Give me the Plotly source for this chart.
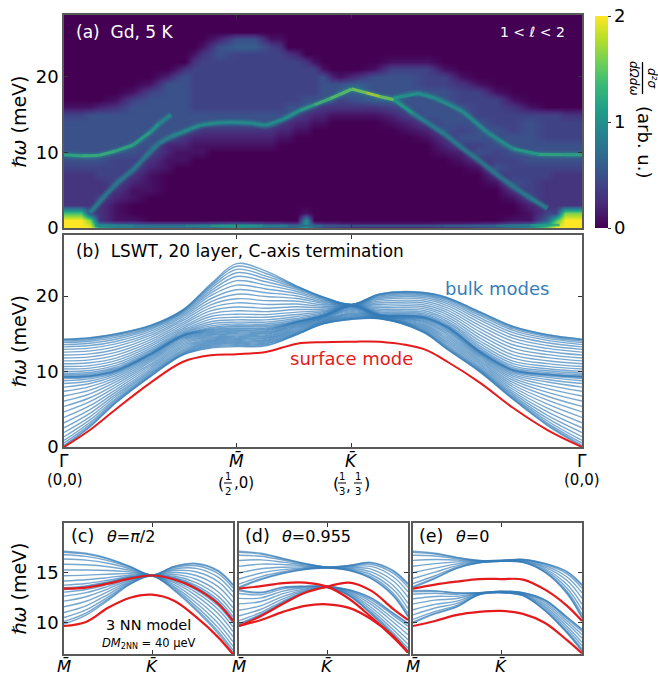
import plotly.graph_objects as go
from plotly.colors import sample_colorscale

FONT = "DejaVu Sans"
FRAME = "#5a5a5a"
BLUE = "rgba(55,126,184,0.68)"
RED = "#e41a1c"

# ---------- panel (a): diffuse intensity in tenths of arb. u.; one list per momentum, index = energy in meV
heat_q_values = [0.0, 0.1, 0.15, 0.2, 0.3, 0.4, 0.5, 0.6, 0.65, 0.7, 0.75, 0.8, 0.85, 0.9, 1.0, 1.1, 1.2, 1.25, 1.3, 1.35,
                 1.4, 1.45, 1.5, 1.55, 1.6, 1.7, 1.8, 1.9, 2.0, 2.1, 2.2, 2.3, 2.4, 2.5, 2.6, 2.7, 2.8, 2.85, 2.9, 3.0]
heat_columns = [
    [20,20,14,3,3,3,3,3,4,5,5,5,5,5,5,4,1],
    [20,20,14,3,3,3,3,3,4,5,5,5,5,5,5,4,1],
    [20,16,4,3,3,3,3,3,4,5,5,5,5,5,5,5,1],
    [12,3,3,3,4,3,3,4,4,5,5,5,5,5,5,5,2],
    [10,1,1,1,2,3,4,4,4,4,5,5,5,5,5,5,3,1],
    [9,1,0,0,1,1,2,3,4,4,5,5,5,5,5,5,5,4,1],
    [8,0,0,0,0,1,1,1,2,3,4,5,5,5,5,5,5,5,4,1],
    [8,0,0,0,0,0,0,0,1,1,2,2,5,5,5,5,5,5,5,5,2],
    [8,0,0,0,0,0,0,0,0,1,1,2,4,5,5,5,5,5,5,5,4,1],
    [8,0,0,0,0,0,0,0,0,1,1,2,3,5,5,5,5,5,5,5,5,3],
    [8,0,0,0,0,0,0,0,0,0,1,1,2,4,5,5,4,4,4,4,4,4,3,1],
    [9,0,0,0,0,0,0,0,0,0,1,1,2,3,5,5,4,4,4,4,4,4,4,3,1],
    [9,0,0,0,0,0,0,0,0,0,0,1,2,3,5,5,4,4,4,4,4,4,4,4,3,1],
    [10,0,0,0,0,0,0,0,0,0,0,1,2,3,5,5,4,4,4,4,4,4,4,5,5,2],
    [12,0,0,0,0,0,0,0,0,0,0,1,2,3,5,5,4,4,4,4,4,4,4,4,6,5],
    [10,0,0,0,0,0,0,0,0,0,0,1,2,3,5,5,4,4,4,4,4,4,4,4,6,5],
    [8,0,0,0,0,0,0,0,0,0,0,1,2,3,5,5,4,4,4,4,4,4,4,4,4,1],
    [8,0,0,0,0,0,0,0,0,0,0,0,1,2,4,5,4,4,4,4,4,4,4,4,3,1],
    [7,0,0,0,0,0,0,0,0,0,0,0,1,2,3,5,5,4,4,4,4,4,4,3],
    [7,0,0,0,0,0,0,0,0,0,0,0,0,1,2,4,5,4,4,4,4,4,4,2],
    [11,10,1,0,0,0,0,0,0,0,0,0,0,1,2,3,5,5,4,4,4,4,3],
    [7,0,0,0,0,0,0,0,0,0,0,0,0,0,1,2,4,5,4,4,4,4,1],
    [5,0,0,0,0,0,0,0,0,0,0,0,0,0,1,2,3,5,5,5,5,1],
    [5,0,0,0,0,0,0,0,0,0,0,0,0,0,0,1,3,5,5,5,2],
    [4,0,0,0,0,0,0,0,0,0,0,0,0,0,0,1,3,4,6,5,1],
    [3,0,0,0,0,0,0,0,0,0,0,0,0,0,0,1,3,5,6,6,3],
    [3,0,0,0,0,0,0,0,0,0,0,0,0,0,0,1,3,6,5,5,5,1],
    [3,0,0,0,0,0,0,0,0,0,0,0,0,0,1,2,4,6,5,5,5,4,1],
    [3,0,0,0,0,0,0,0,0,0,0,0,0,1,2,4,5,5,5,5,5,4,1],
    [3,0,0,0,0,0,0,0,0,0,0,0,1,2,4,5,5,5,5,4,4,4,1],
    [4,0,0,0,0,0,0,0,0,0,1,2,3,5,5,5,5,5,5,4,4,1],
    [4,0,0,0,0,0,0,0,0,1,2,4,5,4,5,5,5,4,4,3,1],
    [5,0,0,0,0,0,0,0,1,3,5,4,5,5,5,4,4,4,4,1],
    [6,0,0,0,0,0,1,3,5,4,4,5,5,5,4,4,4,4,1],
    [8,1,0,0,1,3,5,4,4,4,5,5,5,4,4,4,3,1],
    [10,1,1,2,4,4,4,4,4,5,5,5,5,5,5,4,1],
    [16,6,4,3,3,3,3,4,4,5,5,5,4,4,4,4],
    [20,14,4,3,3,3,3,3,4,5,5,5,4,4,4,4],
    [20,20,16,3,3,3,3,3,4,5,5,5,4,4,4,3],
    [20,20,16,3,3,3,3,3,4,5,5,5,4,4,4,3],
]
heat_energy = list(range(29))

# bright dispersion ridges of panel (a): momentum, energy, intensity
ridge_a_q = [0, 0.1, 0.2, 0.3, 0.4, 0.5, 0.55, 0.62]
ridge_a_e = [9.7, 9.55, 9.6, 10.2, 11.0, 12.7, 13.8, 15.0]
ridge_a_i = [1.25, 1.3, 1.4, 1.3, 1.25, 1.15, 1.05, 0.85]
ridge_b_q = [0.15, 0.2, 0.25, 0.32, 0.4, 0.47, 0.55, 0.62, 0.69, 0.74, 0.79, 0.88, 0.98, 1.08, 1.17, 1.27, 1.37, 1.45,
             1.54, 1.6, 1.667, 1.75, 1.83, 1.91, 2.02, 2.1, 2.2, 2.3, 2.4, 2.5, 2.6, 2.7, 2.8]
ridge_b_e = [2.0, 3.3, 4.6, 6.2, 7.7, 9.4, 11.2, 12.1, 12.7, 13.2, 13.6, 13.9, 14.0, 13.9, 13.6, 14.4, 15.6, 16.3,
             17.1, 17.7, 18.4, 17.9, 17.4, 17.0, 15.2, 14.0, 12.5, 10.7, 9.0, 7.2, 5.5, 4.0, 2.6]
ridge_b_i = [0.9, 0.85, 0.8, 0.8, 0.85, 0.85, 0.85, 0.95, 1.0, 1.05, 1.05, 1.0, 1.0, 1.0, 1.0, 1.05, 1.1, 1.3,
             1.5, 1.5, 1.55, 1.7, 1.9, 1.3, 0.95, 0.9, 0.85, 0.85, 0.8, 0.8, 0.8, 0.85, 0.95]
ridge_c_q = [1.91, 2.05, 2.15, 2.31, 2.45, 2.6, 2.75, 2.9, 3.0]
ridge_c_e = [17.2, 17.8, 17.2, 15.4, 12.7, 10.5, 9.75, 9.7, 9.7]
ridge_c_i = [1.1, 1.05, 1.05, 1.0, 1.0, 1.05, 1.25, 1.3, 1.2]
elastic_q = [0.18, 0.4, 0.7, 0.85, 1.0, 1.15, 1.3, 1.5, 1.8, 2.2, 2.5, 2.7, 2.87]
elastic_e = [0.35, 0.3, 0.3, 0.3, 0.3, 0.3, 0.3, 0.3, 0.3, 0.3, 0.3, 0.35, 0.4]
elastic_i = [1.1, 0.8, 0.8, 1.1, 1.2, 1.0, 0.8, 0.6, 0.55, 0.6, 0.75, 0.95, 1.3]

# ---------- panel (b): energies of the blue modes at each momentum
b_q = [0, 0.15, 0.3, 0.5, 0.69, 0.85, 1, 1.17, 1.35, 1.5, 1.667, 1.83, 2.08, 2.22, 2.41, 2.6, 2.8, 3]
b_modes = [
 [.06,.22,.51,.88,1.36,1.92,2.54,3.21,3.92,4.65,5.38,6.09,6.76,7.38,7.94,8.42,8.79,9.08,9.24,9.3,
  9.33,9.42,9.58,9.78,10.03,10.33,10.67,11.03,11.41,11.8,12.19,12.58,12.94,13.27,13.57,13.83,14.03,14.18,14.27,14.3],
 [2.64,2.76,2.97,3.25,3.59,4.0,4.46,4.95,5.47,6.0,6.53,7.05,7.54,8.0,8.41,8.75,9.03,9.24,9.36,9.4,
  9.43,9.52,9.68,9.88,10.14,10.45,10.79,11.16,11.55,11.95,12.35,12.74,13.11,13.45,13.76,14.02,14.22,14.38,14.47,14.5],
 [5.83,5.9,6.04,6.21,6.43,6.69,6.97,7.28,7.61,7.95,8.29,8.62,8.93,9.21,9.47,9.69,9.86,10.0,10.08,10.1,
  10.13,10.22,10.37,10.57,10.82,11.11,11.44,11.79,12.17,12.55,12.93,13.31,13.66,13.99,14.28,14.53,14.73,14.88,14.97,15.0],
 [9.32,9.37,9.47,9.59,9.74,9.92,10.12,10.34,10.57,10.8,11.03,11.27,11.48,11.68,11.86,12.02,12.14,12.23,12.28,12.3,
  12.32,12.39,12.51,12.66,12.85,13.08,13.34,13.61,13.9,14.2,14.5,14.79,15.06,15.32,15.55,15.74,15.89,16.01,16.08,16.1],
 [12.22,12.26,12.34,12.45,12.58,12.74,12.91,13.1,13.3,13.5,13.7,13.9,14.09,14.26,14.42,14.55,14.66,14.74,14.78,14.8,
  14.82,14.88,14.99,15.12,15.3,15.5,15.73,15.97,16.23,16.5,16.77,17.03,17.27,17.5,17.7,17.88,18.01,18.12,18.18,18.2],
 [13.1,13.23,13.36,13.49,13.62,13.75,13.88,14.01,14.14,14.27,14.4,14.53,14.66,14.79,14.92,15.05,15.18,15.31,15.44,15.57,
  15.7,15.85,16.05,16.3,16.6,16.95,17.3,17.65,18.05,18.45,18.85,19.25,19.65,20.05,20.4,20.7,21.0,21.25,21.45,21.6],
 [13.3,13.43,13.56,13.69,13.82,13.95,14.08,14.21,14.34,14.47,14.6,14.73,14.86,14.99,15.12,15.25,15.38,15.51,15.64,15.77,
  15.95,16.1,16.3,16.55,16.85,17.2,17.6,18.05,18.55,19.1,19.65,20.25,20.85,21.45,22.05,22.6,23.1,23.55,23.95,24.3],
 [13.4,13.52,13.65,13.77,13.9,14.02,14.15,14.27,14.4,14.52,14.65,14.77,14.9,15.02,15.15,15.27,15.4,15.52,15.65,15.77,
  15.95,16.1,16.3,16.55,16.85,17.2,17.55,17.95,18.4,18.9,19.4,19.95,20.45,20.95,21.45,21.9,22.3,22.65,23.0,23.3],
 [14.91,14.94,14.99,15.06,15.15,15.25,15.36,15.49,15.62,15.75,15.88,16.01,16.14,16.25,16.35,16.44,16.51,16.56,16.59,16.6,
  16.63,16.71,16.86,17.05,17.29,17.57,17.88,18.22,18.58,18.95,19.32,19.68,20.02,20.33,20.61,20.85,21.04,21.19,21.27,21.3],
 [16.31,16.33,16.36,16.4,16.46,16.53,16.6,16.68,16.76,16.85,16.94,17.02,17.1,17.17,17.24,17.3,17.34,17.37,17.39,17.4,
  17.42,17.46,17.54,17.64,17.77,17.92,18.08,18.26,18.46,18.65,18.85,19.04,19.22,19.39,19.54,19.66,19.76,19.84,19.89,19.9],
 [16.91,16.94,17.0,17.07,17.16,17.27,17.39,17.52,17.66,17.8,17.94,18.08,18.21,18.33,18.44,18.53,18.6,18.66,18.69,18.7,
  18.7,18.7,18.71,18.72,18.73,18.74,18.75,18.77,18.78,18.8,18.82,18.83,18.85,18.86,18.87,18.88,18.89,18.9,18.9,18.9],
 [17.0,17.01,17.03,17.05,17.07,17.1,17.14,17.17,17.21,17.25,17.29,17.33,17.36,17.4,17.43,17.45,17.47,17.49,17.5,17.5,
  17.52,17.57,17.65,17.77,17.91,18.08,18.26,18.47,18.68,18.9,19.12,19.33,19.54,19.72,19.89,20.03,20.15,20.23,20.28,20.3],
 [15.21,15.25,15.31,15.39,15.49,15.61,15.75,15.89,16.04,16.2,16.36,16.51,16.65,16.79,16.91,17.01,17.09,17.15,17.19,17.2,
  17.22,17.28,17.38,17.51,17.68,17.88,18.1,18.34,18.59,18.85,19.11,19.36,19.6,19.82,20.02,20.19,20.32,20.42,20.48,20.5],
 [12.92,12.97,13.07,13.19,13.34,13.52,13.72,13.94,14.17,14.4,14.63,14.87,15.08,15.28,15.46,15.62,15.74,15.83,15.88,15.9,
  15.92,15.99,16.11,16.27,16.47,16.7,16.96,17.25,17.55,17.85,18.15,18.45,18.74,19.0,19.23,19.43,19.59,19.71,19.78,19.8],
 [9.92,9.96,10.05,10.16,10.29,10.46,10.64,10.83,11.04,11.25,11.46,11.67,11.86,12.04,12.21,12.34,12.45,12.54,12.58,12.6,
  12.63,12.73,12.89,13.1,13.37,13.69,14.05,14.43,14.84,15.25,15.66,16.07,16.45,16.81,17.13,17.4,17.61,17.77,17.87,17.9],
 [6.32,6.39,6.51,6.67,6.87,7.1,7.36,7.65,7.95,8.25,8.55,8.85,9.14,9.4,9.63,9.83,9.99,10.11,10.18,10.2,
  10.23,10.34,10.52,10.75,11.05,11.39,11.78,12.2,12.65,13.1,13.55,14.0,14.42,14.81,15.15,15.45,15.68,15.86,15.97,16.0],
 [2.84,2.96,3.17,3.45,3.79,4.2,4.66,5.15,5.67,6.2,6.73,7.25,7.74,8.2,8.61,8.95,9.23,9.44,9.56,9.6,
  9.63,9.73,9.89,10.1,10.37,10.69,11.05,11.43,11.84,12.25,12.66,13.07,13.45,13.81,14.13,14.4,14.61,14.77,14.87,14.9],
 [.06,.22,.51,.88,1.36,1.92,2.54,3.21,3.92,4.65,5.38,6.09,6.76,7.38,7.94,8.42,8.79,9.08,9.24,9.3,
  9.33,9.42,9.58,9.78,10.03,10.33,10.67,11.03,11.41,11.8,12.19,12.58,12.94,13.27,13.57,13.83,14.03,14.18,14.27,14.3],
]
b_surface = [0, 2.25, 5.0, 8.5, 11.3, 12.15, 12.3, 12.6, 13.7, 13.9, 13.95, 13.95, 13.0, 11.3, 8.5, 5.2, 2.25, 0]

# ---------- panels (c), (d), (e)
low_q = [0, 0.25, 0.5, 0.75, 1, 1.25, 1.5, 1.75, 1.92]
c_modes = [
 [9.89,10.14,10.54,11.04,11.6,12.16,12.66,13.06,13.31,13.4,13.49,13.75,14.16,14.68,15.25,15.82,16.34,16.75,17.01,17.1],
 [10.77,10.98,11.3,11.7,12.15,12.6,13.0,13.32,13.53,13.6,13.68,13.91,14.28,14.74,15.25,15.76,16.22,16.59,16.82,16.9],
 [12.24,12.37,12.57,12.82,13.1,13.38,13.63,13.83,13.96,14.0,14.06,14.23,14.49,14.83,15.2,15.57,15.91,16.17,16.34,16.4],
 [13.82,13.87,13.94,14.04,14.15,14.26,14.36,14.43,14.48,14.5,14.53,14.6,14.73,14.88,15.05,15.22,15.37,15.5,15.57,15.6],
 [14.65,14.66,14.66,14.67,14.68,14.68,14.69,14.69,14.7,14.7,14.7,14.71,14.71,14.72,14.73,14.73,14.74,14.74,14.75,14.75],
 [13.23,13.31,13.45,13.61,13.8,13.99,14.15,14.29,14.37,14.4,14.43,14.51,14.65,14.81,15.0,15.19,15.35,15.49,15.57,15.6],
 [11.26,11.42,11.67,12.0,12.35,12.71,13.03,13.28,13.44,13.5,13.56,13.73,13.99,14.33,14.7,15.07,15.41,15.67,15.84,15.9],
 [8.97,9.19,9.54,9.97,10.45,10.93,11.36,11.71,11.93,12.0,12.08,12.3,12.66,13.1,13.6,14.1,14.54,14.9,15.12,15.2],
 [7.08,7.31,7.68,8.14,8.65,9.16,9.62,9.99,10.22,10.3,10.38,10.63,11.02,11.51,12.05,12.59,13.08,13.47,13.72,13.8],
]
c_red = [
 [13.4, 13.5, 13.9, 14.4, 14.7, 14.3, 13.4, 11.9, 10.2],
 [9.7, 10.1, 11.5, 12.5, 12.8, 12.2, 10.6, 8.6, 6.9],
]
d_modes = [
 [9.85,9.95,10.23,10.71,11.26,11.89,12.44,12.92,13.2,13.3,13.45,13.56,13.85,14.36,14.95,15.6,16.19,16.7,16.99,17.1],
 [10.8,10.87,11.05,11.36,11.72,12.13,12.49,12.8,12.98,13.05,14.3,14.38,14.59,14.95,15.37,15.83,16.25,16.61,16.82,16.9],
 [12,12.05,12.17,12.39,12.64,12.91,13.16,13.38,13.5,13.55,14.9,14.95,15.07,15.28,15.52,15.79,16.03,16.24,16.36,16.4],
 [13,13.02,13.07,13.16,13.27,13.38,13.49,13.58,13.63,13.65,15.3,15.32,15.37,15.45,15.55,15.65,15.75,15.83,15.88,15.9],
 [13.5,13.5,13.52,13.54,13.56,13.59,13.61,13.63,13.65,13.65,15.45,15.45,15.46,15.48,15.49,15.51,15.53,15.54,15.55,15.55],
 [12.7,12.72,12.77,12.85,12.95,13.05,13.15,13.23,13.28,13.3,15.2,15.22,15.26,15.33,15.41,15.5,15.58,15.65,15.69,15.7],
 [10.9,10.95,11.08,11.3,11.56,11.84,12.1,12.32,12.45,12.5,14.4,14.45,14.58,14.8,15.06,15.34,15.6,15.82,15.95,16],
 [8.8,8.87,9.04,9.35,9.7,10.1,10.45,10.76,10.93,11,12.7,12.78,12.98,13.33,13.73,14.18,14.58,14.93,15.13,15.2],
 [7.2,7.28,7.51,7.9,8.35,8.85,9.3,9.69,9.92,10,10.6,10.7,10.96,11.43,11.95,12.55,13.08,13.54,13.8,13.9],
]
d_red = [
 [13.4, 13.65, 13.95, 14.0, 13.6, 12.4, 10.6, 8.6, 7.1],
 [9.7, 10.7, 11.9, 13.0, 13.6, 14.0, 13.2, 11.4, 10.3],
 [9.7, 10.3, 11.1, 11.7, 11.85, 11.5, 10.4, 8.7, 7.05],
]
e_modes = [
 [10,10.1,10.35,10.8,11.31,11.89,12.4,12.85,13.1,13.2,13.5,13.61,13.9,14.4,14.98,15.62,16.2,16.7,16.99,17.1],
 [10.9,10.97,11.15,11.48,11.84,12.26,12.63,12.95,13.13,13.2,14.4,14.48,14.68,15.03,15.43,15.88,16.28,16.63,16.83,16.9],
 [11.6,11.64,11.75,11.95,12.17,12.43,12.65,12.85,12.96,13,15.4,15.43,15.52,15.68,15.85,16.05,16.23,16.38,16.47,16.5],
 [12.8,12.81,12.82,12.85,12.88,12.92,12.95,12.98,12.99,13,15.95,15.96,15.98,16.01,16.05,16.1,16.14,16.17,16.19,16.2],
 [13,13,13.02,13.04,13.06,13.09,13.11,13.13,13.15,13.15,16.1,16.1,16.11,16.13,16.14,16.16,16.18,16.19,16.2,16.2],
 [12.7,12.71,12.73,12.78,12.82,12.88,12.93,12.97,12.99,13,16,16.01,16.03,16.08,16.12,16.18,16.23,16.27,16.29,16.3],
 [11.2,11.23,11.32,11.48,11.65,11.85,12.03,12.18,12.27,12.3,15,15.03,15.1,15.23,15.37,15.53,15.68,15.8,15.87,15.9],
 [9,9.05,9.18,9.4,9.66,9.94,10.2,10.42,10.55,10.6,12.9,12.97,13.14,13.45,13.8,14.2,14.55,14.86,15.03,15.1],
 [7.2,7.27,7.44,7.75,8.1,8.5,8.85,9.16,9.33,9.4,10.5,10.6,10.86,11.33,11.85,12.45,12.98,13.44,13.7,13.8],
]
e_red = [
 [13.4, 13.8, 14.1, 14.35, 14.35, 14.3, 13.3, 11.7, 10.2],
 [9.7, 10.2, 10.8, 11.1, 11.2, 10.9, 10.0, 8.3, 7.0],
]

b_tick_vals = [0, 1, 1.667, 3]
b_tick_text = ["Γ\u0304", "<i>M\u0304</i>", "<i>K\u0304</i>", "Γ\u0304"]
low_tick_vals = [0, 1]
low_tick_text = ["<i>M\u0304</i>", "<i>K\u0304</i>"]

W, H = 658, 673


def px(v):
    return v / W


def py(v):
    return 1 - v / H


fig = go.Figure()

fig.add_trace(go.Heatmap(
    x=heat_q_values, y=heat_energy,
    z=[[(c[e] if e < len(c) else 0) / 10 for c in heat_columns] for e in heat_energy],
    zmin=0, zmax=2, zsmooth="best", colorscale="Viridis", xaxis="x", yaxis="y", hoverinfo="skip",
    colorbar=dict(x=px(595), xanchor="left", xpad=0, y=py(228), yanchor="bottom", ypad=0,
                  len=212 / H, lenmode="fraction", thickness=13, thicknessmode="pixels",
                  tickvals=[0, 1, 2], ticktext=["0", "1", "2"], ticks="outside", ticklen=3,
                  tickcolor="#333", tickfont=dict(family=FONT, size=18, color="black"),
                  outlinewidth=0),
))


def ridge(q, e, inten, halos=((9, 0.10), (7, 0.16), (5, 0.24)), core=3.2):
    # soft halo along the whole ridge, then a core coloured by the local intensity
    for width, alpha in halos:
        fig.add_trace(go.Scatter(x=q, y=e, mode="lines", xaxis="x", yaxis="y",
                                 line=dict(color=f"rgba(35,150,140,{alpha})", width=width, shape="spline"),
                                 hoverinfo="skip", showlegend=False))
    for i in range(len(q) - 1):
        colour = sample_colorscale("Viridis", [(inten[i] + inten[i + 1]) / 4])[0]
        fig.add_trace(go.Scatter(x=q[i:i + 2], y=e[i:i + 2], mode="lines", xaxis="x", yaxis="y", opacity=0.75,
                                 line=dict(color=colour, width=core),
                                 hoverinfo="skip", showlegend=False))


ridge(ridge_a_q, ridge_a_e, ridge_a_i)
ridge(ridge_b_q, ridge_b_e, ridge_b_i)
ridge(ridge_c_q, ridge_c_e, ridge_c_i)
ridge(elastic_q, elastic_e, elastic_i, halos=(), core=2.6)


def modes(q, table, red, xa, ya, width):
    n = len(table[0])
    for i in range(n):
        fig.add_trace(go.Scatter(x=q, y=[col[i] for col in table], mode="lines", xaxis=xa, yaxis=ya,
                                 line=dict(color=BLUE, width=1.4, shape="spline", smoothing=1),
                                 hoverinfo="skip", showlegend=False))
    for r in red:
        fig.add_trace(go.Scatter(x=q, y=r, mode="lines", xaxis=xa, yaxis=ya,
                                 line=dict(color=RED, width=width, shape="spline", smoothing=1),
                                 hoverinfo="skip", showlegend=False))


modes(b_q, b_modes, [b_surface], "x2", "y2", 2.0)
modes(low_q, c_modes, c_red, "x3", "y3", 2.2)
modes(low_q, d_modes, d_red, "x4", "y4", 2.2)
modes(low_q, e_modes, e_red, "x5", "y5", 2.2)


def xax(dom, rng, vals, anchor):
    return dict(domain=[px(dom[0]), px(dom[1])], range=rng, tickvals=vals, showticklabels=False,
                ticks="inside", ticklen=4, tickwidth=1, tickcolor="#333",
                showline=True, mirror="ticks", linecolor=FRAME, linewidth=1.6, showgrid=False,
                zeroline=False, anchor=anchor, automargin=False)


def yax(dom, rng, vals, anchor, show=True, title=None):
    d = dict(domain=[py(dom[1]), py(dom[0])], range=rng, tickvals=vals, showticklabels=show,
             ticks="inside", ticklen=4, tickwidth=1, tickcolor="#333", showline=True, mirror="ticks",
             linecolor=FRAME, linewidth=1.6, showgrid=False, zeroline=False, anchor=anchor,
             automargin=False, tickfont=dict(family=FONT, size=18, color="black"))
    if title:
        d["title"] = dict(text=title, font=dict(family=FONT, size=19, color="black"), standoff=4)
    return d


YT = "<i>ℏω</i> (meV)"
layout = dict(
    width=W, height=H, margin=dict(l=0, r=0, t=0, b=0, autoexpand=False),
    paper_bgcolor="white", plot_bgcolor="white", showlegend=False,
    xaxis=xax((64, 582), [0, 3], [1, 1.667], "y"),
    yaxis=yax((15, 228), [0, 28.2], [0, 10, 20], "x", title=YT),
    xaxis2=xax((64, 582), [0, 3], b_tick_vals, "y2"),
    yaxis2=yax((235, 447), [0, 28.1], [0, 10, 20], "x2", title=YT),
    xaxis3=xax((64, 233), [0, 1.92], low_tick_vals, "y3"),
    yaxis3=yax((523, 654), [6.93, 19.9], [10, 15], "x3", title=YT),
    xaxis4=xax((239, 408), [0, 1.92], low_tick_vals, "y4"),
    yaxis4=yax((523, 654), [6.93, 19.9], [10, 15], "x4", show=False),
    xaxis5=xax((413, 582), [0, 1.92], low_tick_vals, "y5"),
    yaxis5=yax((523, 654), [6.93, 19.9], [10, 15], "x5", show=False),
)
fig.update_layout(**layout)


def note(x, y, text, size, color="black", anchor="left", angle=0):
    fig.add_annotation(x=px(x), y=py(y), xref="paper", yref="paper", text=text, showarrow=False,
                       xanchor=anchor, yanchor="middle", textangle=angle, borderpad=0,
                       font=dict(family=FONT, size=size, color=color))


def bar(x0, x1, y):
    fig.add_shape(type="line", xref="paper", yref="paper", x0=px(x0), x1=px(x1), y0=py(y), y1=py(y),
                  line=dict(color="black", width=1))


# momentum labels under the axes
for val, txt in zip(b_tick_vals, b_tick_text):
    note(64 + 172.67 * val, 460.5, txt, 17, anchor="center")
for left in (64, 239, 413):
    for val, txt in zip(low_tick_vals, low_tick_text):
        note(left + 88 * val, 666, txt, 16.5, anchor="center")

NB = "\u00a0"
note(75, 32, f"(a){NB}{NB}Gd, 5 K", 17, "white")
note(566, 32, "1 &lt; <i>ℓ</i> &lt; 2", 14, "white", "right")
note(75, 251, f"(b){NB}{NB}LSWT, 20 layer, C-axis termination", 16.9)
note(444, 288, "bulk modes", 18, "#377eb8")
note(289, 358, "surface mode", 18, RED)
note(65, 480, "(0,0)", 15, anchor="center")
note(582, 480, "(0,0)", 15, anchor="center")
# stacked fractions: (1/2, 0) and (1/3, 1/3)
note(221, 483, "(", 16, anchor="center")
note(228, 476, "1", 10, anchor="center")
note(228, 491, "2", 10, anchor="center")
bar(224, 232, 483)
note(244, 483, ",0)", 15, anchor="center")
note(336, 483, "(", 16, anchor="center")
note(342, 476, "1", 10, anchor="center")
note(342, 491, "3", 10, anchor="center")
bar(338, 346, 483)
note(349, 486, ",", 15, anchor="center")
note(358, 476, "1", 10, anchor="center")
note(358, 491, "3", 10, anchor="center")
bar(354, 362, 483)
note(367, 483, ")", 16, anchor="center")
note(70, 536, "(c)", 17.5)
note(106, 536, "<i>θ</i>=<i>π</i>/2", 16)
note(244, 536, "(d)", 17.5)
note(281, 536, "<i>θ</i>=0.955", 16)
note(418, 536, "(e)", 17.5)
note(455, 536, "<i>θ</i>=0", 16)
note(148, 625, "3 NN model", 14.5, anchor="center")
note(149, 643, "<i>DM</i><sub>2NN</sub> = 40 µeV", 11.5, anchor="center")
note(652, 78, "<i>d²σ</i>", 12, anchor="center", angle=90)
note(634, 78, "<i>dΩdω</i>", 12, anchor="center", angle=90)
note(645, 142, "(arb. u.)", 18, anchor="center", angle=90)
fig.add_shape(type="line", xref="paper", yref="paper", x0=px(642.5), x1=px(642.5), y0=py(62), y1=py(94),
              line=dict(color="black", width=1.3))

# the page's default 8 px body margin would otherwise shift the whole figure
fig.write_html("out.html", config={"displayModeBar": False},
               post_script="document.body.style.margin='0';"
                           "document.documentElement.style.overflow='hidden';")
